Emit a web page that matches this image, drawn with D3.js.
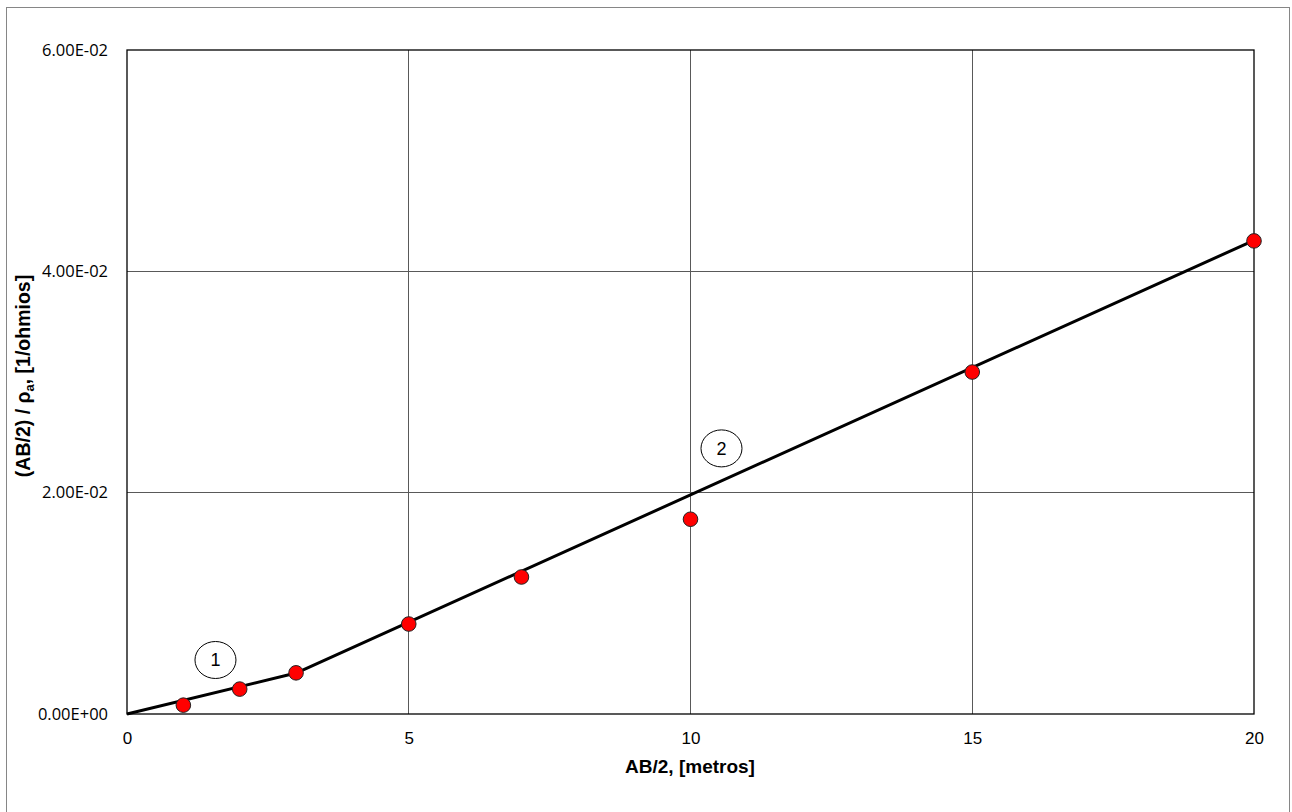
<!DOCTYPE html>
<html><head><meta charset="utf-8">
<script src="https://cdn.jsdelivr.net/npm/d3@7"></script>
<style>body{margin:0;background:#fff}</style>
</head><body><svg id="c" width="1292" height="812"></svg>
<script>
const xValues = [1, 2, 3, 5, 7, 10, 15, 20];
const yValues = [0.0008, 0.00225, 0.00372, 0.00813, 0.01238, 0.0176, 0.0309, 0.04275];
const fitX = [0, 3, 20];
const fitY = [0, 0.0037, 0.0428];
const xTicks = [0, 5, 10, 15, 20];
const yTicks = [0, 0.02, 0.04, 0.06];
const yTickLabels = ["0.00E+00", "2.00E-02", "4.00E-02", "6.00E-02"];
const labels = [{t:"1", x:1.57, y:0.00488}, {t:"2", x:10.55, y:0.0240}];

const svg = d3.select("#c");
svg.append("rect").attr("x",6.5).attr("y",7.5).attr("width",1283).attr("height",810)
  .attr("fill","#fff").attr("stroke","#868686").attr("stroke-width",1);

const L=127, R=1254, T=50, B=714;
const x = d3.scaleLinear().domain([0,20]).range([L,R]);
const y = d3.scaleLinear().domain([0,0.06]).range([B,T]);

// grid
svg.append("g").selectAll("line").data(xTicks.slice(1,-1)).join("line")
  .attr("x1",d=>x(d)).attr("x2",d=>x(d)).attr("y1",T).attr("y2",B)
  .attr("stroke","#595959").attr("stroke-width",1).attr("shape-rendering","crispEdges");
svg.append("g").selectAll("line").data(yTicks.slice(1,-1)).join("line")
  .attr("x1",L).attr("x2",R).attr("y1",d=>y(d)).attr("y2",d=>y(d))
  .attr("stroke","#595959").attr("stroke-width",1).attr("shape-rendering","crispEdges");

// axes
const xAxis = d3.axisBottom(x).tickValues(xTicks).tickSize(0).tickPadding(18).tickFormat(d3.format("d"));
const gx = svg.append("g").attr("transform",`translate(0,${B})`).call(xAxis);
gx.select(".domain").remove();
gx.selectAll("text").attr("font-family","Liberation Sans, Arial, sans-serif").attr("font-size",17).attr("fill","#000");

const yAxis = d3.axisLeft(y).tickValues(yTicks).tickSize(0).tickPadding(19).tickFormat((d,i)=>yTickLabels[i]);
const gy = svg.append("g").attr("transform",`translate(${L},0)`).call(yAxis);
gy.select(".domain").remove();
gy.selectAll("text").attr("font-family","Open Sans, Lato, sans-serif").attr("font-size",16.5).attr("fill","#000");

svg.append("rect").attr("x",L).attr("y",T).attr("width",R-L).attr("height",B-T)
  .attr("fill","none").attr("stroke","#000").attr("stroke-width",1.3);

// fit line
const line = d3.line().x(d=>x(d[0])).y(d=>y(d[1]));
svg.append("path").datum(fitX.map((v,i)=>[v,fitY[i]])).attr("d",line)
  .attr("fill","none").attr("stroke","#000").attr("stroke-width",3).attr("stroke-linejoin","round");

// points
svg.append("g").selectAll("circle").data(xValues.map((v,i)=>[v,yValues[i]])).join("circle")
  .attr("cx",d=>x(d[0])).attr("cy",d=>y(d[1])).attr("r",7.3)
  .attr("fill","#ff0000").attr("stroke","#222").attr("stroke-width",1);

// annotation ellipses
const ann = svg.append("g").selectAll("g").data(labels).join("g")
  .attr("transform",d=>`translate(${x(d.x)},${y(d.y)})`);
ann.append("ellipse").attr("rx",20.5).attr("ry",18.5).attr("fill","#fff").attr("stroke","#000").attr("stroke-width",1);
ann.append("text").text(d=>d.t).attr("text-anchor","middle").attr("dy","0.36em")
  .attr("font-family","Liberation Sans, Arial, sans-serif").attr("font-size",18);

// titles
svg.append("text").attr("x",690).attr("y",773).attr("text-anchor","middle")
  .attr("font-family","Liberation Sans, Arial, sans-serif").attr("font-size",19).attr("font-weight","bold")
  .text("AB/2, [metros]");
const yt = svg.append("text").attr("transform","translate(30,376) rotate(-90)").attr("text-anchor","middle")
  .attr("font-family","Liberation Sans, Arial, sans-serif").attr("font-size",19.5).attr("font-weight","bold");
yt.append("tspan").text("(AB/2) / ρ");
yt.append("tspan").attr("font-size",13).attr("dy",4).text("a");
yt.append("tspan").attr("dy",-4).text(", [1/ohmios]");
</script></body></html>
